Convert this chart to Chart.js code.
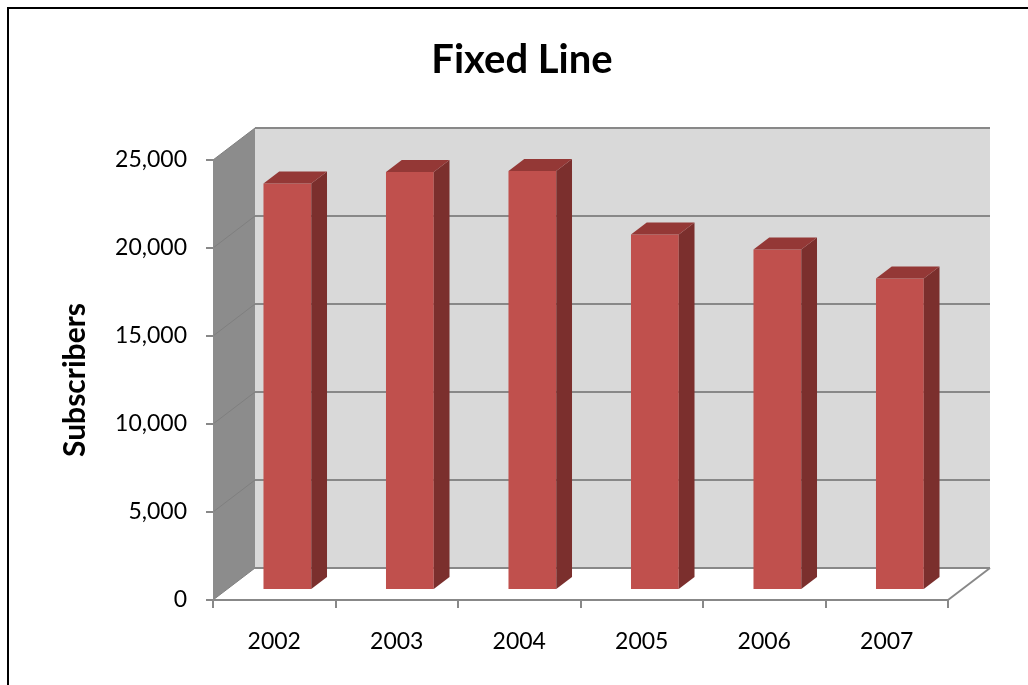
<!DOCTYPE html>
<html>
<head>
<meta charset="utf-8">
<script src="https://cdn.jsdelivr.net/npm/chart.js@4.4.1/dist/chart.umd.min.js"></script>
<style>
  html, body { margin: 0; padding: 0; background: #fff; overflow: hidden; }
  canvas { display: block; }
</style>
</head>
<body>
<canvas id="chart" width="1028" height="685"></canvas>
<script>
// data
const years = ['2002', '2003', '2004', '2005', '2006', '2007'];
const subscribers = [23100, 23750, 23800, 20200, 19350, 17700];
const yMin = 0;
const yMax = 25000;
const yStep = 5000;

// 3d look
const DEPTH_X = 42;   // floor depth, horizontal shift
const DEPTH_Y = -32;  // floor depth, vertical shift
const BAR_FRONT = 0.3125; // where bars sit in the depth
const BAR_BACK = 0.6875;

const FONT = "Lato, 'Open Sans', sans-serif";

const wallPlugin = {
    id: 'walls',
    beforeDraw(chart) {
        const ctx = chart.ctx;
        const area = chart.chartArea;
        const y = chart.scales.y;
        const top = y.getPixelForValue(yMax);
        const base = y.getPixelForValue(yMin);
        const l = area.left, r = area.right;

        ctx.save();
        // outer frame (only top and left show in the picture)
        ctx.strokeStyle = '#000';
        ctx.lineWidth = 2;
        ctx.beginPath();
        ctx.moveTo(8, chart.height + 5);
        ctx.lineTo(8, 8);
        ctx.lineTo(chart.width + 5, 8);
        ctx.stroke();

        // back wall
        ctx.fillStyle = '#d9d9d9';
        ctx.fillRect(l + DEPTH_X, top + DEPTH_Y, r - l, base - top);

        // floor
        ctx.fillStyle = '#ffffff';
        ctx.beginPath();
        ctx.moveTo(l, base);
        ctx.lineTo(r, base);
        ctx.lineTo(r + DEPTH_X, base + DEPTH_Y);
        ctx.lineTo(l + DEPTH_X, base + DEPTH_Y);
        ctx.closePath();
        ctx.fill();

        // side wall
        ctx.fillStyle = '#8c8c8c';
        ctx.beginPath();
        ctx.moveTo(l, top);
        ctx.lineTo(l + DEPTH_X, top + DEPTH_Y);
        ctx.lineTo(l + DEPTH_X, base + DEPTH_Y);
        ctx.lineTo(l, base);
        ctx.closePath();
        ctx.fill();

        // grid lines on the walls
        for (let v = yMin; v <= yMax; v += yStep) {
            const py = y.getPixelForValue(v);
            ctx.strokeStyle = '#7f7f7f';
            ctx.lineWidth = 1;
            ctx.beginPath();
            ctx.moveTo(l, py);
            ctx.lineTo(l + DEPTH_X, py + DEPTH_Y);
            ctx.stroke();
            ctx.strokeStyle = '#888888';
            ctx.lineWidth = 2;
            ctx.beginPath();
            ctx.moveTo(l + DEPTH_X, py + DEPTH_Y);
            ctx.lineTo(r + DEPTH_X, py + DEPTH_Y);
            ctx.stroke();
        }

        // right edge of floor
        ctx.strokeStyle = '#888888';
        ctx.lineWidth = 2;
        ctx.beginPath();
        ctx.moveTo(r, base);
        ctx.lineTo(r + DEPTH_X, base + DEPTH_Y);
        ctx.stroke();
        ctx.restore();
    },
    beforeDatasetsDraw(chart) {
        chart.ctx.save();
        chart.ctx.translate(DEPTH_X * BAR_FRONT, DEPTH_Y * BAR_FRONT);
    },
    afterDatasetsDraw(chart) {
        const ctx = chart.ctx;
        const dx = DEPTH_X * (BAR_BACK - BAR_FRONT);
        const dy = DEPTH_Y * (BAR_BACK - BAR_FRONT);
        chart.getDatasetMeta(0).data.forEach(bar => {
            const p = bar.getProps(['x', 'y', 'base', 'width'], true);
            const L = p.x - p.width / 2, R = p.x + p.width / 2;
            // side face
            ctx.fillStyle = '#7b2f2d';
            ctx.beginPath();
            ctx.moveTo(R, p.y);
            ctx.lineTo(R + dx, p.y + dy);
            ctx.lineTo(R + dx, p.base + dy);
            ctx.lineTo(R, p.base);
            ctx.closePath();
            ctx.fill();
            // top face
            ctx.fillStyle = '#943836';
            ctx.beginPath();
            ctx.moveTo(L, p.y);
            ctx.lineTo(R, p.y);
            ctx.lineTo(R + dx, p.y + dy);
            ctx.lineTo(L + dx, p.y + dy);
            ctx.closePath();
            ctx.fill();
        });
        ctx.restore();
    }
};

const ctx = document.getElementById('chart').getContext('2d');

const chart = new Chart(ctx, {
    type: 'bar',
    data: {
        labels: years,
        datasets: [{
            label: 'Subscribers',
            data: subscribers,
            backgroundColor: '#c0504d',
            borderWidth: 0,
            categoryPercentage: 1,
            barPercentage: 0.39
        }]
    },
    plugins: [wallPlugin],
    options: {
        responsive: false,
        animation: false,
        devicePixelRatio: 1,
        layout: { padding: { left: 16, right: 0, top: 0, bottom: 0 } },
        plugins: {
            legend: { display: false },
            tooltip: { enabled: false },
            title: {
                display: true,
                text: 'Fixed Line',
                color: '#000',
                font: { family: FONT, size: 40, weight: 'bold' },
                padding: { top: 36, bottom: 76 }
            }
        },
        scales: {
            x: {
                offset: true,
                grid: {
                    offset: true,
                    drawOnChartArea: false,
                    drawTicks: true,
                    tickLength: 8,
                    color: '#888888',
                    lineWidth: 2
                },
                border: { display: true, color: '#888888', width: 2 },
                ticks: {
                    color: '#000',
                    padding: 20,
                    font: { family: FONT, size: 23 }
                },
                afterFit(scale) { scale.height = 85; }
            },
            y: {
                min: yMin,
                max: yMax,
                grid: {
                    drawOnChartArea: false,
                    drawTicks: true,
                    tickLength: 7,
                    color: '#888888',
                    lineWidth: 2
                },
                border: { display: true, color: '#8c8c8c', width: 1 },
                ticks: {
                    stepSize: yStep,
                    color: '#000',
                    padding: 19,
                    font: { family: FONT, size: 23 },
                    callback: v => v.toLocaleString('en-US')
                },
                title: {
                    display: true,
                    text: 'Subscribers',
                    color: '#000',
                    font: { family: FONT, size: 30, weight: 'bold' },
                    padding: { top: 41, bottom: 0 }
                },
                afterFit(scale) { scale.width = 197; }
            },
            // empty space on the right, keeps the title centred on the page
            spacer: {
                type: 'linear',
                position: 'right',
                display: true,
                grid: { display: false },
                border: { display: false },
                ticks: { display: false },
                afterFit(scale) { scale.width = 80; }
            }
        }
    }
});
</script>
</body>
</html>
